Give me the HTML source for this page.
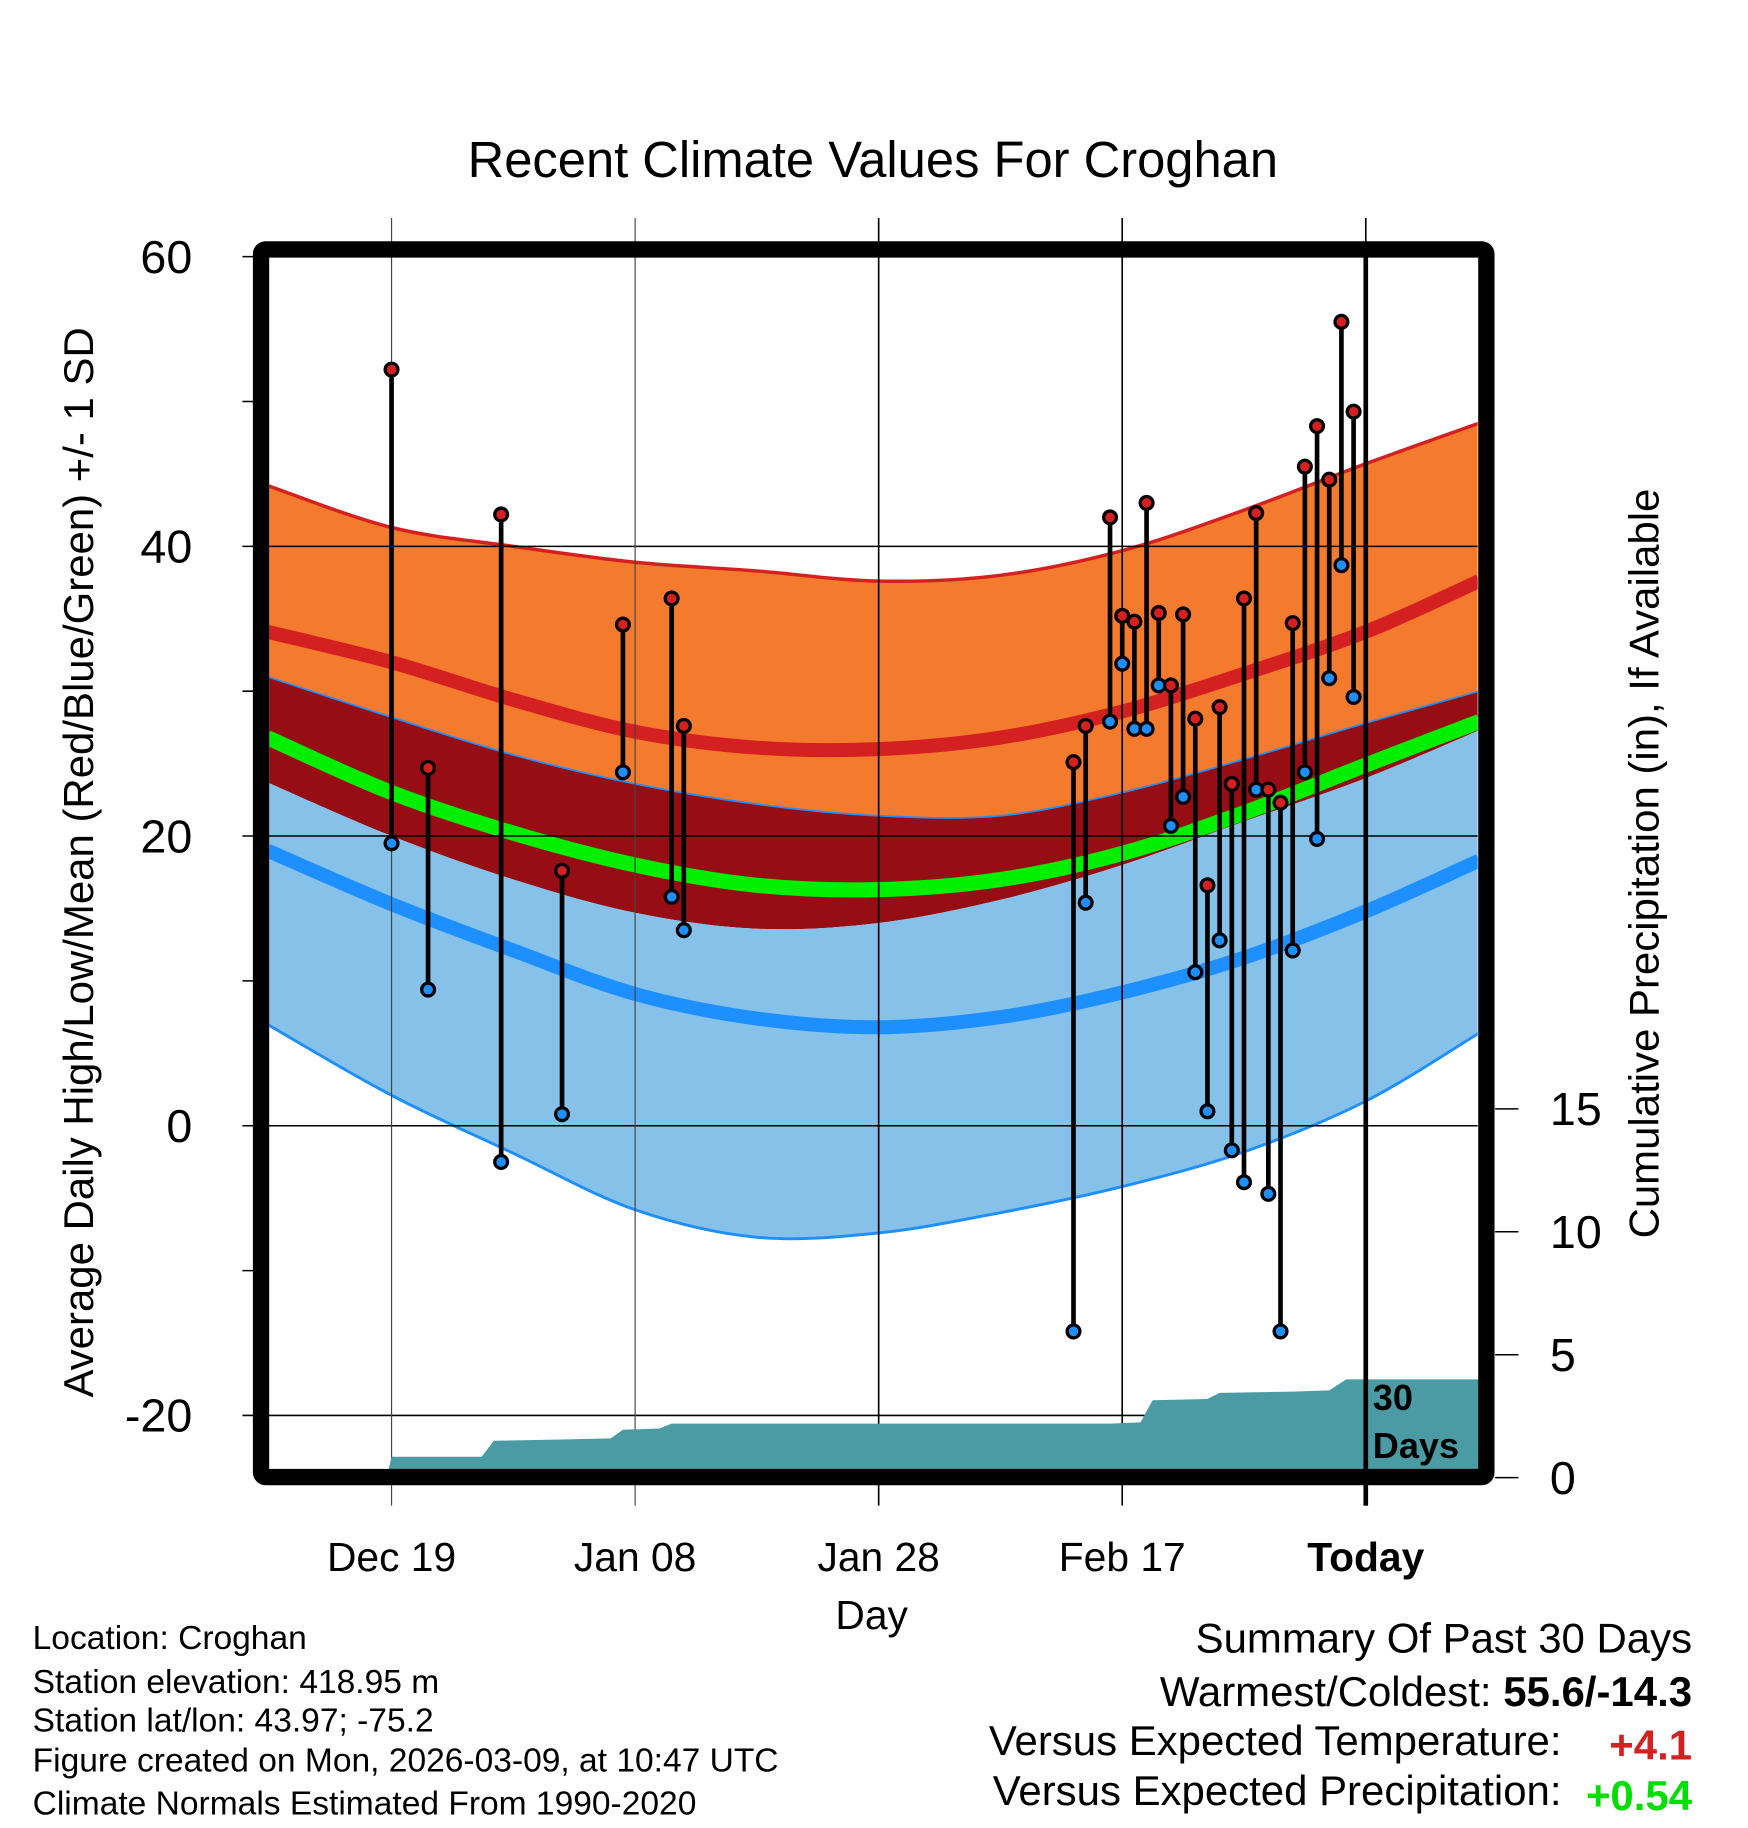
<!DOCTYPE html>
<html><head><meta charset="utf-8"><title>Recent Climate Values For Croghan</title>
<style>
html,body{margin:0;padding:0;background:#fff;}
svg{display:block;font-family:"Liberation Sans",sans-serif;}
</style></head>
<body>
<svg id="chart" width="1748" height="1828" viewBox="0 0 1500 1568.6" xmlns="http://www.w3.org/2000/svg">
<rect x="0" y="0" width="1500" height="1568.6" fill="#fff"/>
<g id="bands"></g>
<g id="grid"></g>
<g id="precip"></g>
<g id="obs"></g>
<g id="frame"></g>
<g id="labels"></g>
</svg>
<script>
// ---- data ----
const normDays = [-90.2, -80, -70, -60, -50, -40, -30, -20, -10, 0, 9.3];
const highPlusSD = [44.2, 41.3, 40.0, 38.9, 38.3, 37.6, 38.0, 39.7, 42.5, 45.7, 48.5];
const meanHigh   = [34.1, 32.0, 29.4, 27.2, 26.1, 26.0, 26.8, 28.6, 31.2, 34.1, 37.6];
const lowPlusSD  = [31.0, 28.2, 25.6, 23.6, 22.2, 21.4, 21.4, 23.0, 25.3, 27.8, 30.0];
const meanTemp   = [26.8, 23.0, 20.2, 18.0, 16.6, 16.3, 17.0, 18.8, 21.6, 24.9, 27.9];
const meanMinusSD= [23.7, 20.0, 17.0, 14.7, 13.6, 14.0, 15.6, 18.0, 21.0, 24.0, 27.3];
const meanLow    = [19.0, 15.3, 12.1, 9.1, 7.4, 6.8, 7.5, 9.2, 11.6, 14.8, 18.3];
const lowMinusSD = [7.0, 2.1, -1.9, -5.8, -7.7, -7.4, -6.0, -4.2, -1.8, 1.7, 6.4];

const obsDays = [-80,-77,-71,-66,-61,-57,-56,-24,-23,-21,-20,-19,-18,-17,-16,-15,-14,-13,-12,-11,-10,-9,-8,-7,-6,-5,-4,-3,-2,-1];
const obsHigh = [52.2,24.7,42.2,17.6,34.6,36.4,27.6,25.1,27.6,42.0,35.2,34.8,43.0,35.4,30.4,35.3,28.1,16.6,28.9,23.6,36.4,42.3,23.2,22.3,34.7,45.5,48.3,44.6,55.5,49.3];
const obsLow  = [19.5,9.4,-2.5,0.8,24.4,15.8,13.5,-14.2,15.4,27.9,31.9,27.4,27.4,30.4,20.7,22.7,10.6,1.0,12.8,-1.7,-3.9,23.2,-4.7,-14.2,12.1,24.4,19.8,30.9,38.7,29.6];

const precipDays = [-90.2,-80.4,-80,-72.6,-71.6,-66,-62,-61,-58,-57,-21,-18.5,-17.5,-13,-12,-6,-3,-1.6,9.3];
const precipVals = [0,0,0.85,0.85,1.5,1.55,1.6,1.95,2.0,2.2,2.2,2.25,3.15,3.2,3.45,3.5,3.55,4.0,4.0];

const yTicks = [60,40,20,0,-20];
const yMinor = [50,30,10,-10];
const pTicks = [0,5,10,15];
const xTickDays = [-80,-60,-40,-20,0];
const xTickLabels = ["Dec 19","Jan 08","Jan 28","Feb 17","Today"];

// ---- scales ----
const X = d => 1172 + 10.45*d;
const Y = v => 966 - 12.43*v;
const P = p => 1268 - 21.1*p;
const NS = "http://www.w3.org/2000/svg";
function mk(tag, attrs, parent){const e=document.createElementNS(NS,tag);for(const k in attrs)e.setAttribute(k,attrs[k]);parent.appendChild(e);return e;}
function pts(vals){return normDays.map((d,i)=>[X(d),Y(vals[i])]);}
function curve(p, start){
  let s = start ? `M${p[0][0]},${p[0][1]}` : `L${p[0][0]},${p[0][1]}`;
  for(let i=0;i<p.length-1;i++){
    const p0=p[i-1]||p[i], p1=p[i], p2=p[i+1], p3=p[i+2]||p[i+1];
    const c1=[p1[0]+(p2[0]-p0[0])/6, p1[1]+(p2[1]-p0[1])/6];
    const c2=[p2[0]-(p3[0]-p1[0])/6, p2[1]-(p3[1]-p1[1])/6];
    s+=` C${c1[0]},${c1[1]} ${c2[0]},${c2[1]} ${p2[0]},${p2[1]}`;
  }
  return s;
}
function band(top,bot){return curve(pts(top),true)+" "+curve(pts(bot).reverse(),false)+" Z";}

const bands=document.getElementById('bands');
const clip=mk('clipPath',{id:'plotclip'},mk('defs',{},document.getElementById('chart')));
mk('rect',{x:231,y:221,width:1037,height:1039},clip);
bands.setAttribute('clip-path','url(#plotclip)');
let e;
e=mk('path',{d:band(highPlusSD,lowPlusSD),fill:'#f47a2e'},bands);

e=mk('path',{d:band(lowPlusSD,meanMinusSD),fill:'#960d14'},bands);

e=mk('path',{d:band(meanMinusSD,lowMinusSD),fill:'#85c1e8'},bands);

e=mk('path',{d:curve(pts(meanHigh),true),fill:'none',stroke:'#d42020','stroke-width':12},bands);

e=mk('path',{d:curve(pts(meanTemp),true),fill:'none',stroke:'#00ee00','stroke-width':13},bands);

e=mk('path',{d:curve(pts(meanLow),true),fill:'none',stroke:'#1e8fff','stroke-width':12},bands);

e=mk('path',{d:curve(pts(highPlusSD),true),fill:'none',stroke:'#d42020','stroke-width':3},bands);

e=mk('path',{d:curve(pts(lowPlusSD),true),fill:'none',stroke:'#1e8fff','stroke-width':1.5},bands);

e=mk('path',{d:curve(pts(lowMinusSD),true),fill:'none',stroke:'#1e8fff','stroke-width':2.5},bands);


// grid
const grid=document.getElementById('grid');
yTicks.forEach(v=>{
  e=mk('line',{x1:208,x2:1268,y1:Y(v),y2:Y(v),stroke:'#000','stroke-width':1.3},grid);
  
  e=mk('text',{x:165,y:Y(v)+14,'text-anchor':'end','font-size':40},grid);e.textContent=v;
  
});
yMinor.forEach(v=>{
  e=mk('line',{x1:208,x2:224,y1:Y(v),y2:Y(v),stroke:'#000','stroke-width':1.3},grid);
  
});
xTickDays.forEach((d,i)=>{
  const thin = i<2;
  e=mk('line',{x1:X(d),x2:X(d),y1:187,y2:1292,stroke:thin?'#444':'#000','stroke-width':thin?1:1.4},grid);
  
  e=mk('text',{x:X(d),y:1348,'text-anchor':'middle','font-size':35,'font-weight':i==4?'bold':'normal'},grid);e.textContent=xTickLabels[i];
  
});
pTicks.forEach(p=>{
  e=mk('line',{x1:1283,x2:1303,y1:P(p),y2:P(p),stroke:'#000','stroke-width':1.3},grid);
  
  e=mk('text',{x:1330,y:P(p)+14,'font-size':40},grid);e.textContent=p;
  
});

// precip
const pg=document.getElementById('precip');
let pd=`M${X(precipDays[0])},${P(0)}`;
precipDays.forEach((d,i)=>{pd+=` L${X(d)},${P(precipVals[i])}`;});
pd+=` L${X(precipDays[precipDays.length-1])},${P(0)} Z`;
e=mk('path',{d:pd,fill:'#4a9ba3'},pg);


// observations
const og=document.getElementById('obs');
obsDays.forEach((d,i)=>{
  e=mk('line',{x1:X(d),x2:X(d),y1:Y(obsHigh[i]),y2:Y(obsLow[i]),stroke:'#000','stroke-width':4},og);
  
});
obsDays.forEach((d,i)=>{
  e=mk('circle',{cx:X(d),cy:Y(obsHigh[i]),r:5.5,fill:'#d42020',stroke:'#000','stroke-width':2.8},og);
  
  e=mk('circle',{cx:X(d),cy:Y(obsLow[i]),r:5.5,fill:'#1e8fff',stroke:'#000','stroke-width':2.8},og);
  
});

// today line & frame
const fg=document.getElementById('frame');
e=mk('line',{x1:X(0),x2:X(0),y1:214,y2:1292,stroke:'#000','stroke-width':4},fg);

e=mk('text',{x:1178,y:1210,'font-size':31,'font-weight':'bold'},fg);e.textContent='30';

e=mk('text',{x:1178,y:1251,'font-size':31,'font-weight':'bold'},fg);e.textContent='Days';

e=mk('rect',{x:224,y:214,width:1051.5,height:1053.5,fill:'none',stroke:'#000','stroke-width':14,rx:4},fg);


// labels
const lg=document.getElementById('labels');
function txt(s,attrs,name){const t=mk('text',attrs,lg);t.textContent=s;return t;}
txt('Recent Climate Values For Croghan',{x:749,y:152,'text-anchor':'middle','font-size':43.5},'chart-title');
txt('Average Daily High/Low/Mean (Red/Blue/Green) +/- 1 SD',{x:0,y:0,'text-anchor':'middle','font-size':36,transform:'translate(80,740) rotate(-90)'},'y-axis-title');
txt('Cumulative Precipitation (in), If Available',{x:0,y:0,'text-anchor':'middle','font-size':36,transform:'translate(1423,741) rotate(-90)'},'precip-axis-title');
txt('Day',{x:748,y:1398,'text-anchor':'middle','font-size':35},'x-axis-title');
const info=['Location: Croghan','Station elevation: 418.95 m','Station lat/lon: 43.97; -75.2','Figure created on Mon, 2026-03-09, at 10:47 UTC','Climate Normals Estimated From 1990-2020'];
const infoY=[1415,1453,1486,1520,1557];
info.forEach((s,i)=>txt(s,{x:28,y:infoY[i],'font-size':28.8},'station-info-line'));
txt('Summary Of Past 30 Days',{x:1452,y:1418,'text-anchor':'end','font-size':36},'summary-title');
const w=txt('Warmest/Coldest: ',{x:1452,y:1464,'text-anchor':'end','font-size':36},'warmest-coldest');
const b=document.createElementNS(NS,'tspan');b.setAttribute('font-weight','bold');b.textContent='55.6/-14.3';w.appendChild(b);
txt('Versus Expected Temperature:',{x:1340,y:1506,'text-anchor':'end','font-size':36},'temp-anomaly-label');
txt('+4.1',{x:1452,y:1510,'text-anchor':'end','font-size':36,'font-weight':'bold',fill:'#d42020'},'temp-anomaly-value');
txt('Versus Expected Precipitation:',{x:1340,y:1549,'text-anchor':'end','font-size':36},'precip-anomaly-label');
txt('+0.54',{x:1452,y:1553,'text-anchor':'end','font-size':36,'font-weight':'bold',fill:'#00dd00'},'precip-anomaly-value');
</script>
</body></html>
